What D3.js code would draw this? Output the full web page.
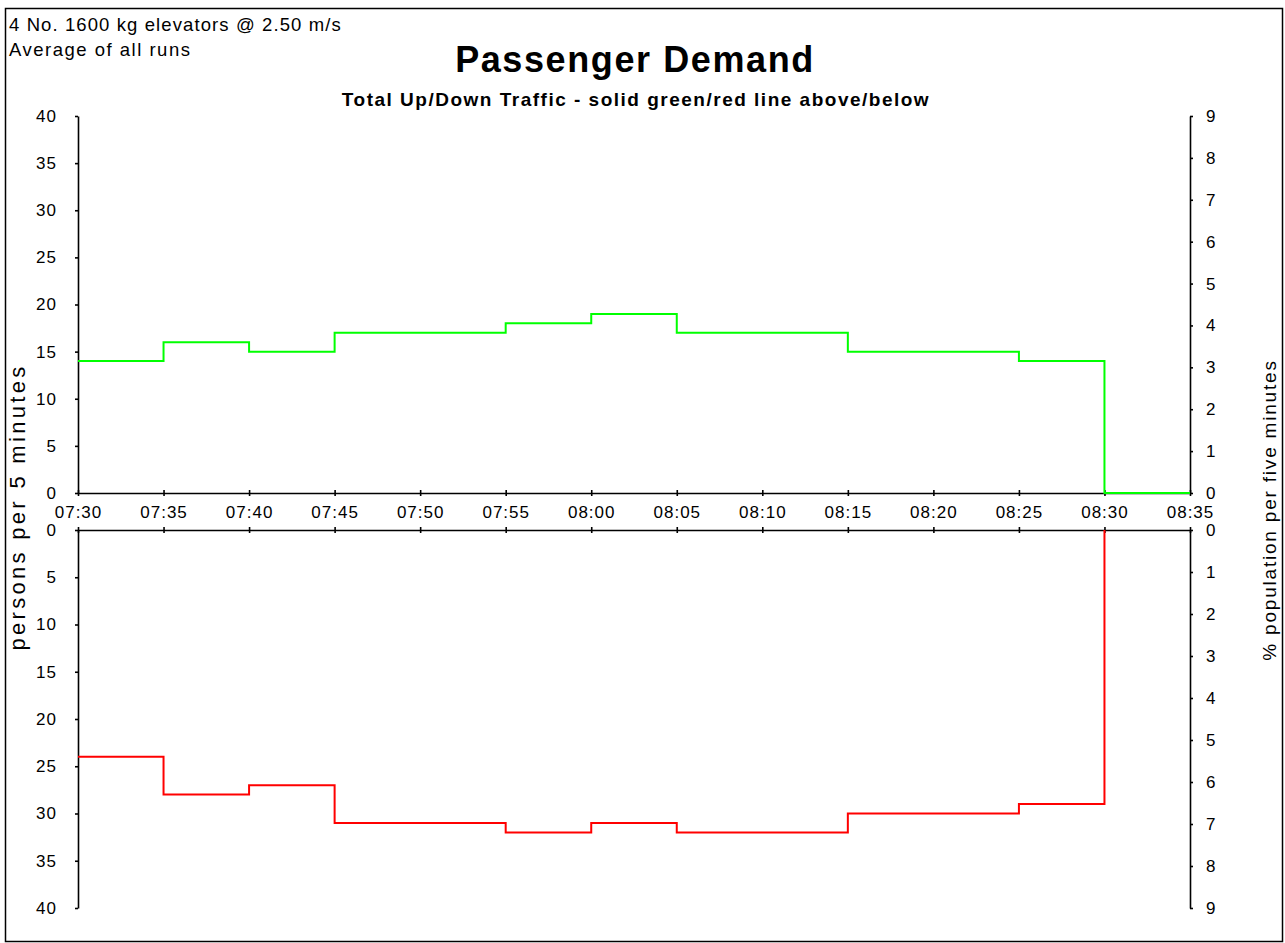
<!DOCTYPE html>
<html>
<head>
<meta charset="utf-8">
<script src="https://cdn.jsdelivr.net/npm/d3@7"></script>
<style>
  html, body { margin: 0; padding: 0; background: #fff; }
  svg { display: block; font-family: "Liberation Sans", Arial, sans-serif; }
</style>
</head>
<body>
<svg id="chart" width="1285" height="943"></svg>
<script>
// Five-minute interval start times (minutes after 07:30) and axis labels
const intervalStarts = [0, 5, 10, 15, 20, 25, 30, 35, 40, 45, 50, 55, 60];
const timeLabels = ["07:30", "07:35", "07:40", "07:45", "07:50", "07:55", "08:00",
                    "08:05", "08:10", "08:15", "08:20", "08:25", "08:30", "08:35"];
// Persons per 5 minutes, up traffic (above) and down traffic (below)
const upTraffic   = [14, 16, 15, 17, 17, 18, 19, 17, 17, 15, 15, 14, 0];
const downTraffic = [24, 28, 27, 31, 31, 32, 31, 32, 32, 30, 30, 29, 0];
// Axis tick values
const personTicks = [0, 5, 10, 15, 20, 25, 30, 35, 40];
const percentTicks = [0, 1, 2, 3, 4, 5, 6, 7, 8, 9];

const svg = d3.select("#chart");

const left = 78, right = 1190;
const topY0 = 493, topY1 = 116;
const botY0 = 530, botY1 = 908;

const x = d3.scaleLinear().domain([0, 65]).range([left, right]);
const yUp = d3.scaleLinear().domain([0, 40]).range([topY0, topY1]);
const yUpPct = d3.scaleLinear().domain([0, 9]).range([topY0, topY1]);
const yDown = d3.scaleLinear().domain([0, 40]).range([botY0, botY1]);
const yDownPct = d3.scaleLinear().domain([0, 9]).range([botY0, botY1]);

// Outer frame
svg.append("rect")
  .attr("x", 5.5).attr("y", 8.5)
  .attr("width", 1277).attr("height", 933)
  .attr("fill", "none").attr("stroke", "#000").attr("stroke-width", 1.5);

// Header texts
svg.append("text").attr("x", 9).attr("y", 31)
  .attr("font-size", 18.5).attr("letter-spacing", 1.1)
  .text("4 No. 1600 kg elevators @ 2.50 m/s");
svg.append("text").attr("x", 9).attr("y", 56)
  .attr("font-size", 18.5).attr("letter-spacing", 1.5)
  .text("Average of all runs");
svg.append("text").attr("x", 635).attr("y", 72)
  .attr("text-anchor", "middle").attr("font-size", 36).attr("font-weight", "bold")
  .attr("letter-spacing", 1.6)
  .text("Passenger Demand");
svg.append("text").attr("x", 636).attr("y", 106)
  .attr("text-anchor", "middle").attr("font-size", 19).attr("font-weight", "bold")
  .attr("letter-spacing", 1.5)
  .text("Total Up/Down Traffic - solid green/red line above/below");

function styleAxis(g) {
  g.select(".domain").attr("stroke", "#000").attr("stroke-width", 1.6);
  g.selectAll(".tick line").attr("stroke", "#000").attr("stroke-width", 1.6);
  g.selectAll(".tick text").attr("font-size", 17).attr("fill", "#000")
    .attr("letter-spacing", 1)
    .attr("font-family", "Liberation Sans, Arial, sans-serif");
}

// Left axes (persons)
svg.append("g").attr("transform", `translate(${left},0)`)
  .call(d3.axisLeft(yUp).tickValues(personTicks).tickSize(3).tickSizeOuter(0).tickPadding(18))
  .call(styleAxis);
svg.append("g").attr("transform", `translate(${left},0)`)
  .call(d3.axisLeft(yDown).tickValues(personTicks).tickSize(3).tickSizeOuter(0).tickPadding(18))
  .call(styleAxis);

// Right axes (% population)
svg.append("g").attr("transform", `translate(${right},0)`)
  .call(d3.axisRight(yUpPct).tickValues(percentTicks).tickSize(3).tickSizeOuter(0).tickPadding(13))
  .call(styleAxis);
svg.append("g").attr("transform", `translate(${right},0)`)
  .call(d3.axisRight(yDownPct).tickValues(percentTicks).tickSize(3).tickSizeOuter(0).tickPadding(13))
  .call(styleAxis);

// Time axis under the upper panel
const timeTicks = timeLabels.map((_, i) => i * 5);
svg.append("g").attr("transform", `translate(0,${topY0})`)
  .call(d3.axisBottom(x).tickValues(timeTicks).tickFormat((d, i) => timeLabels[i])
        .tickSize(3).tickSizeOuter(0).tickPadding(10))
  .call(styleAxis)
  .call(g => g.selectAll(".tick line").attr("y1", -3));

// Baseline of the lower panel
svg.append("g").attr("transform", `translate(0,${botY0})`)
  .call(d3.axisBottom(x).tickValues(timeTicks).tickFormat("")
        .tickSize(3).tickSizeOuter(0))
  .call(styleAxis)
  .call(g => g.selectAll(".tick line").attr("y1", -3));

// Step lines
function stepPoints(values) {
  const pts = intervalStarts.map((t, i) => [t, values[i]]);
  pts.push([65, values[values.length - 1]]);
  return pts;
}

svg.append("path")
  .datum(stepPoints(upTraffic))
  .attr("fill", "none").attr("stroke", "#00ff00").attr("stroke-width", 2)
  .attr("d", d3.line().x(d => x(d[0])).y(d => yUp(d[1])).curve(d3.curveStepAfter));

svg.append("path")
  .datum(stepPoints(downTraffic).slice(0, -1))
  .attr("fill", "none").attr("stroke", "#ff0000").attr("stroke-width", 2)
  .attr("d", d3.line().x(d => x(d[0])).y(d => yDown(d[1])).curve(d3.curveStepAfter));

// Axis titles
svg.append("text")
  .attr("transform", "translate(25,507) rotate(-90)")
  .attr("text-anchor", "middle").attr("font-size", 22).attr("letter-spacing", 3.3)
  .text("persons per 5 minutes");
svg.append("text")
  .attr("transform", "translate(1276,510) rotate(-90)")
  .attr("text-anchor", "middle").attr("font-size", 19).attr("letter-spacing", 1.8)
  .text("% population per five minutes");
</script>
</body>
</html>
